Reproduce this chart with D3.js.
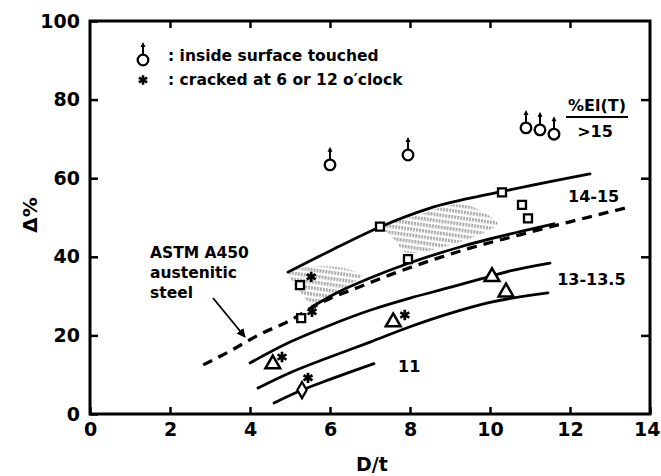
<!DOCTYPE html>
<html><head><meta charset="utf-8">
<script src="https://cdn.jsdelivr.net/npm/d3@7"></script>
<style>
html,body{margin:0;padding:0;background:#fff;}
text{font-family:"DejaVu Sans",sans-serif;font-weight:bold;fill:#000;}
</style></head>
<body>
<svg id="c" width="661" height="476"></svg>
<script>
// ---- data ----
const xTicks = [0, 2, 4, 6, 8, 10, 12, 14];
const yTicks = [0, 20, 40, 60, 80, 100];
const touched = [[6.0, 63.4], [7.95, 65.9], [10.9, 72.8], [11.25, 72.3], [11.6, 71.2]];
const squares = [[7.25, 47.7], [7.95, 39.4], [10.3, 56.4], [10.8, 53.2], [10.95, 49.8], [5.25, 32.8], [5.28, 24.4]];
const cracked = [[5.53, 34.9], [5.55, 26.0], [4.8, 14.5], [5.45, 9.2], [7.87, 25.2]];
const triangles = [[4.57, 12.7], [7.58, 23.4], [10.05, 34.9], [10.4, 31.0]];
const diamonds = [[5.3, 6.1]];
const curve1415Upper = [[4.95, 36.1], [6.0, 41.5], [7.25, 47.6], [8.5, 52.4], [10.25, 56.5], [12.5, 61.1]];
const curve1415Lower = [[5.55, 27.3], [6.2, 31.0], [7.0, 34.6], [7.95, 38.3], [9.25, 42.5], [10.75, 46.4], [11.6, 48.4]];
const curveASTM = [[2.83, 12.5], [3.5, 16.0], [4.25, 20.3], [5.0, 23.8], [5.5, 26.8], [6.0, 29.4], [6.7, 32.2], [7.5, 35.4], [8.5, 39.0], [9.5, 42.2], [10.75, 45.6], [12.0, 48.9], [13.5, 52.7]];
const curve1313Upper = [[4.0, 13.0], [5.0, 18.3], [6.0, 22.6], [7.0, 26.4], [8.0, 29.5], [9.0, 32.2], [9.75, 34.3], [10.5, 36.4], [11.5, 38.4]];
const curve1313Lower = [[4.2, 6.6], [5.0, 10.5], [6.0, 14.5], [7.0, 18.3], [8.0, 22.2], [9.0, 25.6], [10.0, 28.4], [11.45, 30.8]];
const curve11 = [[4.6, 2.8], [5.3, 6.1], [6.0, 8.8], [7.1, 12.8]];
const shade1 = [[4.95, 36.0], [5.6, 37.6], [6.3, 37.2], [6.8, 35.2], [6.2, 31.2], [5.6, 27.6], [5.3, 30.5]];
const shade2 = [[7.35, 47.8], [8.2, 50.6], [9.0, 53.2], [9.6, 52.6], [10.2, 48.4], [9.5, 44.6], [8.5, 41.6], [7.9, 41.0], [7.6, 44.5]];
const curveLabels = [["14-15", 11.95, 54.0], ["13-13.5", 11.68, 32.7], ["11", 7.7, 10.8]];
const legendItems = [": inside surface touched", ": cracked at 6 or 12 o\u2032clock"];
const astmLabel = ["ASTM A450", "austenitic", "steel"];

// ---- chart ----
const svg = d3.select("#c");
const x = d3.scaleLinear().domain([0, 14]).range([90, 650]);
const y = d3.scaleLinear().domain([0, 100]).range([414, 21]);

const defs = svg.append("defs");
const pat = defs.append("pattern").attr("id", "stip").attr("patternUnits", "userSpaceOnUse")
  .attr("width", 3).attr("height", 6).attr("patternTransform", "rotate(8)");
pat.append("line").attr("x1", 1).attr("y1", 0).attr("x2", 1).attr("y2", 3.5)
  .attr("stroke", "#444").attr("stroke-width", 0.9);

const poly = d3.line().x(d => x(d[0])).y(d => y(d[1])).curve(d3.curveCardinalClosed.tension(0.3));
[shade1, shade2].forEach(s => svg.append("path").attr("d", poly(s)).attr("fill", "url(#stip)").attr("stroke", "none"));

// axes
const xAxisB = d3.axisBottom(x).tickValues(xTicks).tickSizeInner(-7).tickSizeOuter(0).tickPadding(9).tickFormat(d3.format("d"));
const gxb = svg.append("g").attr("transform", `translate(0,${y(0)})`).call(xAxisB);
const xAxisT = d3.axisTop(x).tickValues(xTicks.slice(1, -1)).tickSizeInner(-7).tickSizeOuter(0).tickFormat("");
const gxt = svg.append("g").attr("transform", `translate(0,${y(100)})`).call(xAxisT);
const yAxisL = d3.axisLeft(y).tickValues(yTicks).tickSizeInner(-8).tickSizeOuter(0).tickPadding(10).tickFormat(d3.format("d"));
const gyl = svg.append("g").attr("transform", `translate(${x(0)},0)`).call(yAxisL);
const yAxisR = d3.axisRight(y).tickValues(yTicks.slice(1, -1)).tickSizeInner(-9).tickSizeOuter(0).tickFormat("");
const gyr = svg.append("g").attr("transform", `translate(${x(14)},0)`).call(yAxisR);
[gxb, gxt, gyl, gyr].forEach(g => {
  g.select(".domain").remove();
  g.selectAll(".tick line").attr("stroke", "#000").attr("stroke-width", 2.5);
  g.selectAll(".tick text").style("font-family", "'DejaVu Sans',sans-serif")
    .style("font-weight", "bold").style("font-size", "19px").attr("fill", "#000");
});
gxb.selectAll(".tick text").filter(d => d === 14).attr("text-anchor", "end").attr("dx", 10);

svg.append("rect").attr("x", x(0)).attr("y", y(100)).attr("width", x(14) - x(0)).attr("height", y(0) - y(100))
  .attr("fill", "none").attr("stroke", "#000").attr("stroke-width", 3);

// axis titles
svg.append("text").attr("x", 372).attr("y", 471).attr("text-anchor", "middle").style("font-size", "19px").text("D/t");
svg.append("text").attr("transform", "translate(37,215) rotate(-90)").attr("text-anchor", "middle").style("font-size", "20px").text("\u0394%");

// curves
const ln = d3.line().x(d => x(d[0])).y(d => y(d[1])).curve(d3.curveMonotoneX);
[curve1415Upper, curve1415Lower, curve1313Upper, curve1313Lower, curve11].forEach(c =>
  svg.append("path").attr("d", ln(c)).attr("fill", "none").attr("stroke", "#000").attr("stroke-width", 2.8).attr("stroke-linecap", "round"));
svg.append("path").attr("d", ln(curveASTM)).attr("fill", "none").attr("stroke", "#000")
  .attr("stroke-width", 3.3).attr("stroke-dasharray", "10,7");

// markers
const sym = (type, size) => d3.symbol().type(type).size(size)();
svg.selectAll(".sq").data(squares).join("path").attr("d", sym(d3.symbolSquare, 64))
  .attr("transform", d => `translate(${x(d[0])},${y(d[1])})`).attr("fill", "#fff").attr("stroke", "#000").attr("stroke-width", 2.3);
svg.selectAll(".tri").data(triangles).join("path").attr("d", sym(d3.symbolTriangle, 95))
  .attr("transform", d => `translate(${x(d[0])},${y(d[1])})`).attr("fill", "#fff").attr("stroke", "#000").attr("stroke-width", 2.5);
svg.selectAll(".dia").data(diamonds).join("path").attr("d", sym(d3.symbolDiamond, 75))
  .attr("transform", d => `translate(${x(d[0])},${y(d[1])})`).attr("fill", "#fff").attr("stroke", "#000").attr("stroke-width", 2.3);
svg.selectAll(".ast").data(cracked).join("path").attr("d", sym(d3.symbolAsterisk, 75))
  .attr("transform", d => `translate(${x(d[0])},${y(d[1])})`).attr("fill", "none").attr("stroke", "#000").attr("stroke-width", 2.7);

function touchedMark(g, cx, cy) {
  g.append("circle").attr("cx", cx).attr("cy", cy).attr("r", 5.3).attr("fill", "#fff").attr("stroke", "#000").attr("stroke-width", 2.3);
  g.append("line").attr("x1", cx).attr("y1", cy - 5).attr("x2", cx).attr("y2", cy - 15).attr("stroke", "#000").attr("stroke-width", 2);
  g.append("path").attr("d", `M${cx - 2.5},${cy - 13} L${cx},${cy - 18} L${cx + 2.5},${cy - 13} Z`).attr("fill", "#000");
}
const gt = svg.append("g");
touched.forEach(d => touchedMark(gt, x(d[0]), y(d[1])));

// legend
touchedMark(svg.append("g"), 143, 60);
svg.append("path").attr("d", sym(d3.symbolAsterisk, 65)).attr("transform", "translate(143,80)")
  .attr("fill", "none").attr("stroke", "#000").attr("stroke-width", 2.6);
svg.append("text").attr("x", 168).attr("y", 61).style("font-size", "15.5px").text(legendItems[0]);
svg.append("text").attr("x", 168).attr("y", 85).style("font-size", "15.5px").text(legendItems[1]);

// curve labels
curveLabels.forEach(l => svg.append("text").attr("x", x(l[1])).attr("y", y(l[2])).style("font-size", "16px").text(l[0]));

// %El(T) header
svg.append("text").attr("x", 597).attr("y", 111).attr("text-anchor", "middle").style("font-size", "16px").text("%El(T)");
svg.append("line").attr("x1", 566).attr("x2", 628).attr("y1", 117).attr("y2", 117).attr("stroke", "#000").attr("stroke-width", 2);
svg.append("text").attr("x", 595).attr("y", 137).attr("text-anchor", "middle").style("font-size", "16px").text(">15");

// ASTM annotation
astmLabel.forEach((t, i) =>
  svg.append("text").attr("x", 150).attr("y", 258 + i * 20).style("font-size", "15.5px").text(t));
defs.append("marker").attr("id", "ah").attr("viewBox", "0 0 10 10").attr("refX", 9).attr("refY", 5)
  .attr("markerWidth", 5).attr("markerHeight", 5).attr("orient", "auto")
  .append("path").attr("d", "M0,0 L10,5 L0,10 Z").attr("fill", "#000");
svg.append("line").attr("x1", 213).attr("y1", 298).attr("x2", 245).attr("y2", 337)
  .attr("stroke", "#000").attr("stroke-width", 1.8).attr("marker-end", "url(#ah)");
</script>
</body></html>
